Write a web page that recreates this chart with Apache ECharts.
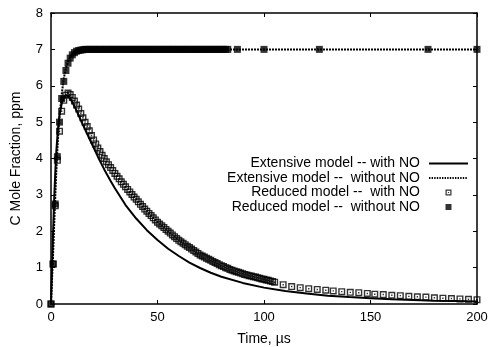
<!DOCTYPE html>
<html>
<head>
<meta charset="utf-8">
<script src="https://cdn.jsdelivr.net/npm/echarts@6/dist/echarts.min.js"></script>
<style>html,body{margin:0;padding:0;background:#fff}#c{width:488px;height:347px}</style>
</head>
<body>
<div id="c"></div>
<script>
// ---- data ----
var seriesNames = [
  'Extensive model -- with NO',
  'Extensive model --  without NO',
  'Reduced model --  with NO',
  'Reduced model --  without NO'
];
var xTicks = [0, 50, 100, 150, 200];
var yTicks = [0, 1, 2, 3, 4, 5, 6, 7, 8];

// Extensive model (lines)
var lineT = [0,0.5,1,1.5,2,2.5,3,3.5,4,5,6,7,8,9,10,12,14,16,18,20,22,25,28,30,35,40,45,50,55,60,65,70,75,80,90,100,110,120,130,140,150,160,170,180,190,200];
var extWith = [0,1.0,2.0,2.9,3.6,4.2,4.6,4.95,5.2,5.5,5.67,5.74,5.72,5.65,5.55,5.32,5.05,4.8,4.55,4.3,4.05,3.7,3.38,3.18,2.72,2.35,2.03,1.76,1.52,1.32,1.14,0.99,0.86,0.75,0.58,0.45,0.36,0.29,0.23,0.19,0.16,0.13,0.11,0.09,0.08,0.07];
var extWithout = [0,0.7,1.4,2.2,2.95,3.65,4.25,4.75,5.15,5.75,6.2,6.48,6.66,6.79,6.87,6.96,6.99,7,7,7,7,7,7,7,7,7,7,7,7,7,7,7,7,7,7,7,7,7,7,7,7,7,7,7,7,7];

// Reduced model with NO (open squares)
var redWithT = [0,1,2,3,4,5,6,7,8,9,10,11,12,13,14,15,16,17,18,19,20,21,22,23,24,25,26,27,28,29,30,31,32,33,34,35,36,37,38,39,40,41,42,43,44,45,46,47,48,49,50,51,52,53,54,55,56,57,58,59,60,61,62,63,64,65,66,67,68,69,70,71,72,73,74,75,76,77,78,79,80,81,82,83,84,85,86,87,88,89,90,91,92,93,94,95,96,97,98,99,100,101,102,103,104,105,109,113,117,121,125,129,132.5,136.5,140.5,144.5,148.5,152,156,160,164,168,172,176,180,184,188,192,196,200];
var redWithV = [0,1.1,2.7,3.95,4.75,5.3,5.6,5.74,5.8,5.76,5.68,5.58,5.47,5.36,5.24,5.12,5.0,4.88,4.76,4.63,4.51,4.4,4.29,4.19,4.09,4.0,3.91,3.83,3.75,3.67,3.59,3.51,3.44,3.36,3.29,3.22,3.15,3.08,3.01,2.94,2.88,2.81,2.74,2.68,2.61,2.55,2.49,2.43,2.37,2.31,2.25,2.2,2.15,2.1,2.05,2.0,1.95,1.9,1.85,1.8,1.75,1.71,1.67,1.63,1.59,1.55,1.51,1.47,1.43,1.39,1.35,1.32,1.29,1.26,1.23,1.2,1.17,1.14,1.11,1.08,1.05,1.03,1.0,0.98,0.95,0.93,0.91,0.89,0.87,0.85,0.83,0.81,0.8,0.78,0.77,0.75,0.74,0.72,0.71,0.69,0.68,0.66,0.65,0.63,0.62,0.6,0.53,0.48,0.45,0.42,0.40,0.38,0.36,0.34,0.32,0.31,0.29,0.27,0.26,0.24,0.23,0.21,0.20,0.19,0.17,0.16,0.15,0.14,0.13,0.12];

// Reduced model without NO (filled squares)
var redWithoutT = [0,1,2,3,4,5,6,7,8,9,10,11,12,13,14,15,16,17,18,19,20,21,22,23,24,25,26,27,28,29,30,31,32,33,34,35,36,37,38,39,40,41,42,43,44,45,46,47,48,49,50,51,52,53,54,55,56,57,58,59,60,61,62,63,64,65,66,67,68,69,70,71,72,73,74,75,76,77,78,79,80,81,82,83,87.5,100,126,177,200];
var redWithoutV = [0,1.1,2.75,4.05,5.0,5.65,6.12,6.42,6.62,6.76,6.85,6.91,6.95,6.97,6.98,6.99,7,7,7,7,7,7,7,7,7,7,7,7,7,7,7,7,7,7,7,7,7,7,7,7,7,7,7,7,7,7,7,7,7,7,7,7,7,7,7,7,7,7,7,7,7,7,7,7,7,7,7,7,7,7,7,7,7,7,7,7,7,7,7,7,7,7,7,7,7,7,7,7,7];

function zip(t, v) { var out = []; for (var i = 0; i < t.length && i < v.length; i++) out.push([t[i], v[i]]); return out; }

var FONT = "'Liberation Sans', Arial, Helvetica, sans-serif";
var openSq = 'path://M0,0 L10,0 L10,10 L0,10 Z M2,2 L2,8 L8,8 L8,2 Z M4,4 L6,4 L6,6 L4,6 Z';

// legend icons (39 x 7 box; tiny corner specks fix the bounding box)
var specks = 'M0,0 L0.01,0 L0.01,0.01 Z M38.99,6.99 L39,6.99 L39,7 Z ';
var iconSolid = 'path://' + specks + 'M0,2.6 L39,2.6 L39,4.4 L0,4.4 Z';
var iconDotted = 'path://' + specks +
  'M0,2.6 L1.4,2.6 L1.4,4.4 L0,4.4 Z M2.6,2.6 L4,2.6 L4,4.4 L2.6,4.4 Z M5.2,2.6 L6.6,2.6 L6.6,4.4 L5.2,4.4 Z ' +
  'M7.8,2.6 L9.2,2.6 L9.2,4.4 L7.8,4.4 Z M10.4,2.6 L11.8,2.6 L11.8,4.4 L10.4,4.4 Z M13,2.6 L14.4,2.6 L14.4,4.4 L13,4.4 Z ' +
  'M15.6,2.6 L17,2.6 L17,4.4 L15.6,4.4 Z M18.2,2.6 L19.6,2.6 L19.6,4.4 L18.2,4.4 Z M20.8,2.6 L22.2,2.6 L22.2,4.4 L20.8,4.4 Z ' +
  'M23.4,2.6 L24.8,2.6 L24.8,4.4 L23.4,4.4 Z M26,2.6 L27.4,2.6 L27.4,4.4 L26,4.4 Z M28.6,2.6 L30,2.6 L30,4.4 L28.6,4.4 Z ' +
  'M31.2,2.6 L32.6,2.6 L32.6,4.4 L31.2,4.4 Z M33.8,2.6 L35.2,2.6 L35.2,4.4 L33.8,4.4 Z M36.4,2.6 L37.8,2.6 L37.8,4.4 L36.4,4.4 Z';
var iconOpen = 'path://' + specks +
  'M16.5,0.5 L22.5,0.5 L22.5,6.5 L16.5,6.5 Z M17.7,1.7 L17.7,5.3 L21.3,5.3 L21.3,1.7 Z M18.9,2.9 L20.1,2.9 L20.1,4.1 L18.9,4.1 Z';
var iconFull = 'path://' + specks + 'M16.5,0.5 L22.5,0.5 L22.5,6.5 L16.5,6.5 Z';

var chart = echarts.init(document.getElementById('c'), null, {renderer: 'canvas'});

var axisLine = {show: true, onZero: false, lineStyle: {color: '#000', width: 1.5}};
var tick = {show: true, inside: true, length: 4, lineStyle: {color: '#000', width: 1}};

var legendTops = [156.5, 171, 185.5, 200];
var legendIcons = [iconSolid, iconDotted, iconOpen, iconFull];
var legends = seriesNames.map(function (n, i) {
  return {
    data: [{name: n, icon: legendIcons[i]}], right: 20, top: legendTops[i], orient: 'vertical', align: 'right',
    itemWidth: 39, itemHeight: 7, symbolKeepAspect: false, padding: 0, itemGap: 0, selectedMode: false,
    itemStyle: {color: '#000', borderWidth: 0},
    textStyle: {fontFamily: FONT, fontSize: 14, color: '#000', padding: [0, 4, 0, 0]}
  };
});

chart.setOption({
  animation: false,
  backgroundColor: '#fff',
  grid: {left: 51, right: 11, top: 13, bottom: 43, containLabel: false, outerBoundsMode: 'none'},
  legend: legends,
  xAxis: [{
    type: 'value', min: xTicks[0], max: xTicks[xTicks.length - 1], interval: 50, position: 'bottom',
    name: 'Time, µs', nameLocation: 'middle', nameGap: 28,
    nameTextStyle: {fontFamily: FONT, fontSize: 14, color: '#000'},
    axisLine: axisLine, axisTick: tick, splitLine: {show: false},
    axisLabel: {fontFamily: FONT, fontSize: 13, color: '#000', margin: 7}
  }, {
    type: 'value', min: xTicks[0], max: xTicks[xTicks.length - 1], interval: 50, position: 'top',
    axisLine: axisLine, axisTick: tick, splitLine: {show: false}, axisLabel: {show: false}
  }],
  yAxis: [{
    type: 'value', min: yTicks[0], max: yTicks[yTicks.length - 1], interval: 1, position: 'left',
    name: 'C Mole Fraction, ppm', nameLocation: 'middle', nameGap: 28, nameRotate: 90,
    nameTextStyle: {fontFamily: FONT, fontSize: 14, color: '#000'},
    axisLine: axisLine, axisTick: tick, splitLine: {show: false},
    axisLabel: {fontFamily: FONT, fontSize: 13, color: '#000', margin: 8}
  }, {
    type: 'value', min: yTicks[0], max: yTicks[yTicks.length - 1], interval: 1, position: 'right',
    axisLine: axisLine, axisTick: tick, splitLine: {show: false}, axisLabel: {show: false}
  }],
  series: [{
    name: seriesNames[0], type: 'line', data: zip(lineT, extWith), symbol: 'none', showSymbol: false,
    lineStyle: {color: '#000', width: 2}, itemStyle: {color: '#000'}, z: 2
  }, {
    name: seriesNames[1], type: 'line', data: zip(lineT, extWithout), symbol: 'none', showSymbol: false,
    lineStyle: {color: '#000', width: 2, type: [2, 1]}, itemStyle: {color: '#000'}, z: 3
  }, {
    name: seriesNames[2], type: 'scatter', data: zip(redWithT, redWithV), symbol: openSq, symbolSize: 7,
    itemStyle: {color: '#000'}, z: 4
  }, {
    name: seriesNames[3], type: 'scatter', data: zip(redWithoutT, redWithoutV), symbol: 'rect', symbolSize: 7,
    itemStyle: {color: '#000'}, z: 5
  }]
});
</script>
</body>
</html>
